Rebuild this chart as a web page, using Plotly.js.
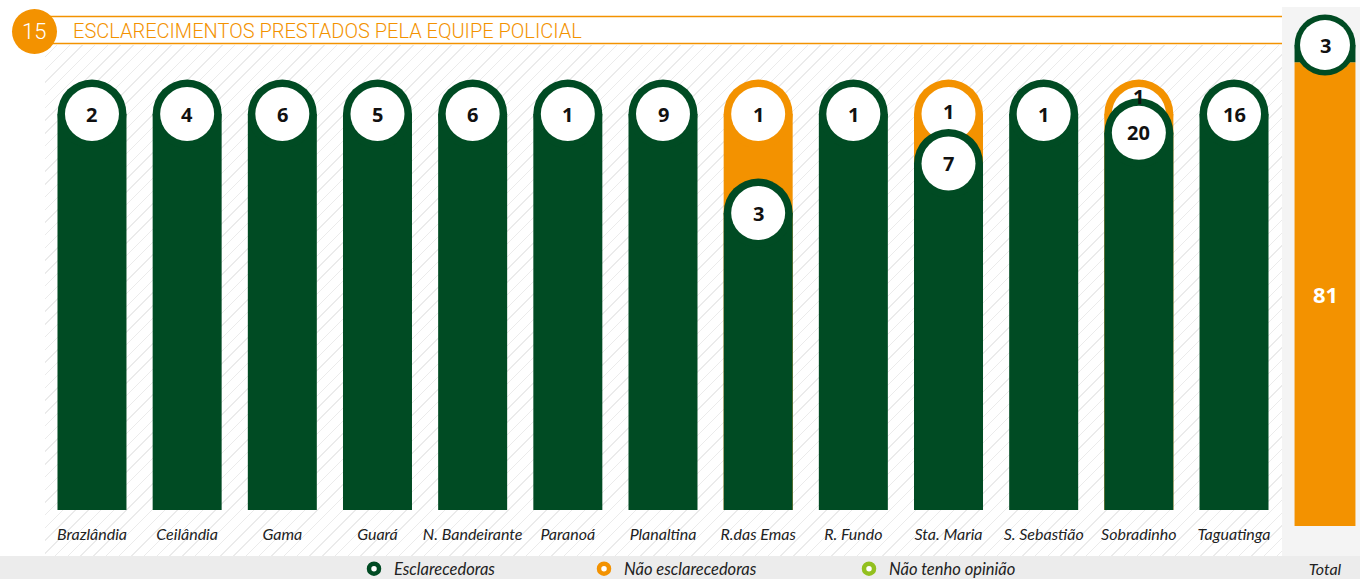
<!DOCTYPE html>
<html>
<head>
<meta charset="utf-8">
<script src="https://cdn.plot.ly/plotly-3.0.1.min.js"></script>
<style>
  html, body { margin: 0; padding: 0; background: #ffffff; width: 1360px; height: 579px; overflow: hidden; }
  #wrap { position: relative; width: 1360px; height: 579px; overflow: hidden; }
  #hatch {
    position: absolute; left: 45px; top: 45px; width: 1237px; height: 511px;
    background: repeating-linear-gradient(135deg, rgba(255,255,255,0) 0px, rgba(255,255,255,0) 8px, #ebebeb 8px, #ebebeb 9px);
  }
  #chart { position: absolute; left: 0; top: 0; width: 1360px; height: 579px; }
</style>
</head>
<body>
<div id="wrap">
  <div id="hatch"></div>
  <div id="chart"></div>
</div>
<script>
// ---------------- data ----------------
const categories = ['Brazlândia', 'Ceilândia', 'Gama', 'Guará', 'N. Bandeirante', 'Paranoá', 'Planaltina',
  'R.das Emas', 'R. Fundo', 'Sta. Maria', 'S. Sebastião', 'Sobradinho', 'Taguatinga'];
const esclarecedoras    = [2, 4, 6, 5, 6, 1, 9, 3, 1, 7, 1, 20, 16];
const naoEsclarecedoras = [0, 0, 0, 0, 0, 0, 0, 1, 0, 1, 0, 1, 0];
const naoTenhoOpiniao   = [0, 0, 0, 0, 0, 0, 0, 0, 0, 0, 0, 0, 0];
const seriesNames = ['Esclarecedoras', 'Não esclarecedoras', 'Não tenho opinião'];
const totalLabel = 'Total';
const chartNumber = '15';
const chartTitle = 'ESCLARECIMENTOS PRESTADOS PELA EQUIPE POLICIAL';

// ---------------- styles ----------------
const GREEN = '#004b23';
const ORANGE = '#f39200';
const LIGHTGREEN = '#93c01f';
const W = 1360, H = 579;
const px = v => v / W;
const py = v => 1 - v / H;

// main plot geometry
const mainLeft = 44.4, mainRight = 1281.6;
const mainTop = 114, mainBottom = 510;
const catStep = (mainRight - mainLeft) / categories.length;
const barFrac = 0.725;
const barPx = barFrac * catStep;
const unitPx = mainBottom - mainTop;

// total geometry
const totLeft = 1290, totRight = 1360, totTop = 45, totBottom = 526;
const totBarFrac = 0.87;
const totBarPx = totBarFrac * (totRight - totLeft);

// derived values
const totals = categories.map((c, i) => esclarecedoras[i] + naoEsclarecedoras[i] + naoTenhoOpiniao[i]);
const greenShare = categories.map((c, i) => esclarecedoras[i] > 0 ? esclarecedoras[i] / totals[i] : null);
const orangeShare = categories.map((c, i) => naoEsclarecedoras[i] > 0 ? (esclarecedoras[i] + naoEsclarecedoras[i]) / totals[i] : null);

const sumEsc = esclarecedoras.reduce((a, b) => a + b, 0);
const sumNao = naoEsclarecedoras.reduce((a, b) => a + b, 0);
const sumOp = naoTenhoOpiniao.reduce((a, b) => a + b, 0);
const sumAll = sumEsc + sumNao + sumOp;

const traces = [];
// bars (main)
traces.push({ type: 'bar', x: categories, y: orangeShare, width: barFrac, marker: { color: ORANGE, line: { width: 0 } },
  showlegend: false, hoverinfo: 'skip' });
traces.push({ type: 'bar', x: categories, y: greenShare, width: barFrac, marker: { color: GREEN, line: { width: 0 } },
  showlegend: false, hoverinfo: 'skip' });
// bars (total) - orange bottom, green top
traces.push({ type: 'bar', x: [totalLabel], y: [sumEsc / sumAll], width: totBarFrac, xaxis: 'x2', yaxis: 'y2',
  marker: { color: ORANGE, line: { width: 0 } }, showlegend: false, hoverinfo: 'skip' });
traces.push({ type: 'bar', x: [totalLabel], y: [sumNao / sumAll], base: [sumEsc / sumAll], width: totBarFrac, xaxis: 'x2', yaxis: 'y2',
  marker: { color: GREEN, line: { width: 0 } }, showlegend: false, hoverinfo: 'skip' });

// caps + white circles
const capTrace = (y, color, size, xa, ya, x) => ({ type: 'scatter', mode: 'markers', x: x, y: y, xaxis: xa, yaxis: ya,
  cliponaxis: false, marker: { size: size, color: color, line: { width: 0 } }, showlegend: false, hoverinfo: 'skip' });
traces.push(capTrace(orangeShare, ORANGE, barPx, 'x', 'y', categories));
traces.push(capTrace(orangeShare, '#ffffff', 54, 'x', 'y', categories));
traces.push(capTrace(greenShare, GREEN, barPx, 'x', 'y', categories));
traces.push(capTrace(greenShare, '#ffffff', 54, 'x', 'y', categories));
traces.push(capTrace([1], GREEN, totBarPx, 'x2', 'y2', [totalLabel]));
traces.push(capTrace([1], '#ffffff', 50, 'x2', 'y2', [totalLabel]));

// legend-only entries
const legendColors = [GREEN, ORANGE, LIGHTGREEN];
const legendIds = ['legend', 'legend2', 'legend3'];
seriesNames.forEach((n, i) => {
  traces.push({ type: 'scatter', mode: 'markers', name: n, x: [categories[0]], y: [null], legend: legendIds[i],
    marker: { size: 10, color: '#ffffff', line: { color: legendColors[i], width: 4.5 } }, hoverinfo: 'skip' });
});

// labels
const numFont = { family: 'Open Sans, sans-serif', size: 20, color: '#111111', weight: 700 };
const annotations = [];
categories.forEach((c, i) => {
  if (greenShare[i] !== null) {
    annotations.push({ x: c, y: greenShare[i], xref: 'x', yref: 'y', xanchor: 'center', yanchor: 'middle',
      text: String(esclarecedoras[i]), showarrow: false, font: numFont });
  }
  if (orangeShare[i] !== null) {
    let shift = 0;
    if (greenShare[i] !== null) {
      const d = (orangeShare[i] - greenShare[i]) * unitPx;
      if (d < 54) shift = (54 - d) / 2;
    }
    annotations.push({ x: c, y: orangeShare[i], xref: 'x', yref: 'y', xanchor: 'center', yanchor: 'middle',
      text: String(naoEsclarecedoras[i]), showarrow: false, font: numFont, yshift: shift });
  }
});
annotations.push({ x: totalLabel, y: 1, xref: 'x2', yref: 'y2', xanchor: 'center', yanchor: 'middle',
  text: String(sumNao), showarrow: false, font: numFont });
annotations.push({ x: totalLabel, y: sumEsc / sumAll / 2, xref: 'x2', yref: 'y2', xanchor: 'center', yanchor: 'middle',
  text: String(sumEsc), showarrow: false, font: { family: 'Open Sans, sans-serif', size: 22, color: '#ffffff', weight: 700 } });
// header texts
annotations.push({ x: px(34), y: py(31), xref: 'paper', yref: 'paper', xanchor: 'center', yanchor: 'middle',
  text: chartNumber, showarrow: false, font: { family: 'Roboto, sans-serif', size: 22, color: '#ffffff', weight: 300 } });
annotations.push({ x: px(71), y: py(31), xref: 'paper', yref: 'paper', xanchor: 'left', yanchor: 'middle',
  text: chartTitle, showarrow: false, font: { family: 'Roboto, sans-serif', size: 20, color: ORANGE, weight: 300 } });

const shapes = [
  { type: 'rect', xref: 'paper', yref: 'paper', x0: px(1282), x1: px(1360), y0: py(556), y1: py(7), fillcolor: '#f4f4f4', line: { width: 0 }, layer: 'below' },
  { type: 'rect', xref: 'paper', yref: 'paper', x0: 0, x1: 1, y0: 0, y1: py(556), fillcolor: '#ececec', line: { width: 0 }, layer: 'below' },
  { type: 'line', xref: 'paper', yref: 'paper', x0: px(50), x1: px(1282), y0: py(16.5), y1: py(16.5), line: { color: ORANGE, width: 1.6 }, layer: 'below' },
  { type: 'line', xref: 'paper', yref: 'paper', x0: px(50), x1: px(1282), y0: py(43.5), y1: py(43.5), line: { color: ORANGE, width: 1.6 }, layer: 'below' },
  { type: 'circle', xref: 'paper', yref: 'paper', x0: px(12), x1: px(57), y0: py(54), y1: py(9), fillcolor: ORANGE, line: { width: 0 }, layer: 'below' }
];

const tickFont = { family: 'Lato, sans-serif', size: 16, color: '#222222', style: 'italic' };
const legendFont = { family: 'Lato, sans-serif', size: 16.5, color: '#222222', style: 'italic' };
const legendBase = { orientation: 'h', xanchor: 'left', yanchor: 'middle', y: py(569), bgcolor: 'rgba(0,0,0,0)',
  borderwidth: 0, font: legendFont, itemclick: false, itemdoubleclick: false };

const layout = {
  width: W, height: H,
  margin: { l: 0, r: 0, t: 0, b: 0, pad: 0, autoexpand: false },
  paper_bgcolor: 'rgba(0,0,0,0)', plot_bgcolor: 'rgba(0,0,0,0)',
  barmode: 'overlay', hovermode: false,
  showlegend: true,
  legend: Object.assign({}, legendBase, { x: px(374 - 20) }),
  legend2: Object.assign({}, legendBase, { x: px(604 - 20) }),
  legend3: Object.assign({}, legendBase, { x: px(869 - 20) }),
  xaxis: { type: 'category', domain: [px(mainLeft), px(mainRight)], range: [-0.5, categories.length - 0.5],
    showgrid: false, zeroline: false, showline: false, ticks: '', ticklabelstandoff: 13, automargin: false,
    tickfont: tickFont, anchor: 'y', fixedrange: true },
  yaxis: { domain: [py(mainBottom), py(mainTop)], range: [0, 1], visible: false, fixedrange: true },
  xaxis2: { type: 'category', domain: [px(totLeft), px(totRight)], range: [-0.5, 0.5], anchor: 'y2',
    showgrid: false, zeroline: false, showline: false, ticks: '', ticklabelstandoff: 32, automargin: false,
    tickfont: tickFont, fixedrange: true },
  yaxis2: { domain: [py(totBottom), py(totTop)], range: [0, 1], visible: false, anchor: 'x2', fixedrange: true },
  shapes: shapes,
  annotations: annotations
};

Plotly.newPlot('chart', traces, layout, { displayModeBar: false, staticPlot: true });
</script>
</body>
</html>
